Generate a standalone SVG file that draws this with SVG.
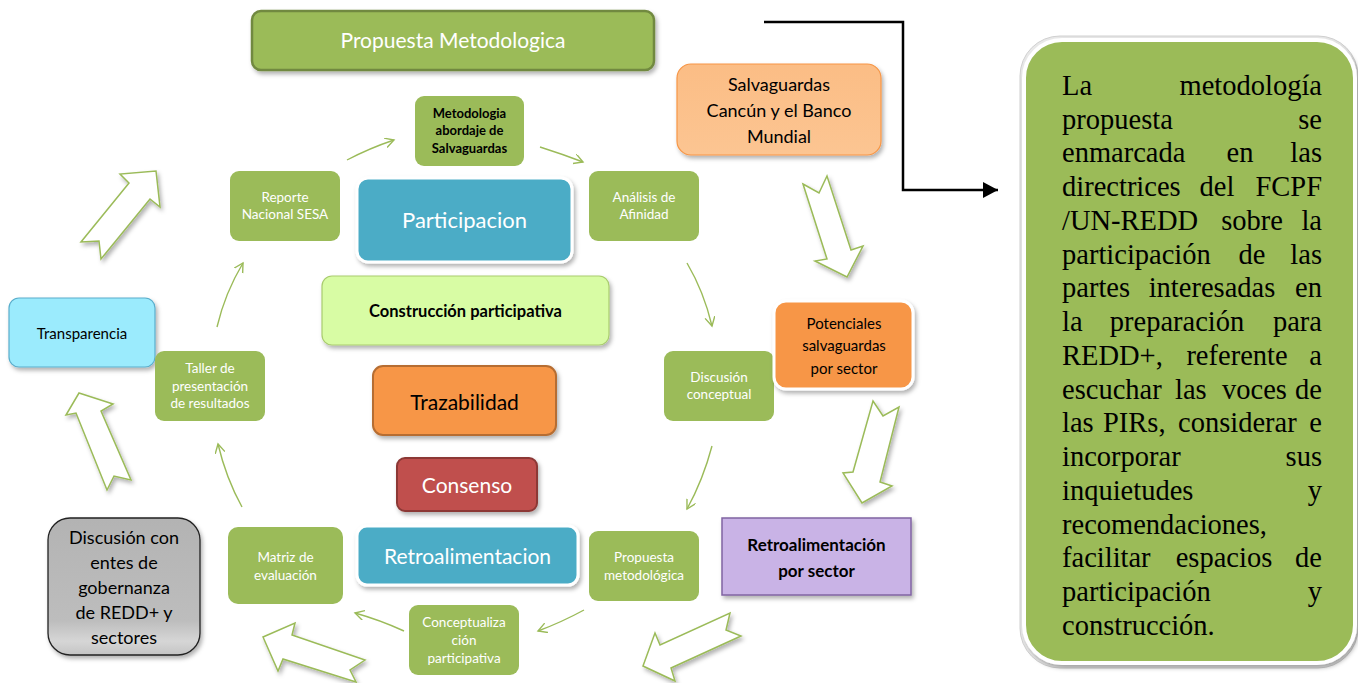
<svg xmlns="http://www.w3.org/2000/svg" width="1358" height="683" viewBox="0 0 1358 683">
<defs>
<style>
.g{fill:#9bbb59;}
.wt{fill:#ffffff;font-family:Lato,"Open Sans",sans-serif;font-size:13.5px;text-anchor:middle;}
.bk{fill:#000000;font-family:Lato,"Open Sans",sans-serif;text-anchor:middle;}
.bold{font-weight:bold;}
.blk{fill:#ffffff;stroke:#9bbb59;stroke-width:1.5;stroke-linejoin:miter;}
.conn{fill:none;stroke:#9bbb59;stroke-width:1.4;}
.jt{fill:#000;font-family:"Liberation Serif","Times New Roman",serif;font-size:28.5px;}
</style>
<filter id="sh" x="-20%" y="-20%" width="140%" height="150%">
<feDropShadow dx="2" dy="3" stdDeviation="2" flood-color="#000" flood-opacity="0.3"/>
</filter>
<marker id="va" markerWidth="12" markerHeight="12" refX="9" refY="5" orient="auto" markerUnits="userSpaceOnUse">
<path d="M0,0 L9,5 L0,10" fill="none" stroke="#9bbb59" stroke-width="1.4"/>
</marker>
<marker id="ba" markerWidth="18" markerHeight="18" refX="15" refY="8" orient="auto" markerUnits="userSpaceOnUse">
<path d="M0,0 L15,8 L0,16 Z" fill="#000"/>
</marker>
<linearGradient id="gray" x1="0" y1="0" x2="0" y2="1">
<stop offset="0" stop-color="#b3b3b3"/>
<stop offset="0.75" stop-color="#bdbdbd"/>
<stop offset="0.9" stop-color="#d6d6d6"/>
<stop offset="1" stop-color="#c4c4c4"/>
</linearGradient>
<linearGradient id="org" x1="0" y1="0" x2="0" y2="1">
<stop offset="0" stop-color="#fbbd85"/>
<stop offset="1" stop-color="#fcc592"/>
</linearGradient>
</defs>

<g id="connectors">
<path class="conn" d="M347,160 Q370,148 394,140" marker-end="url(#va)"/>
<path class="conn" d="M540,147 Q562,154 583,162" marker-end="url(#va)"/>
<path class="conn" d="M687,263 Q704,292 712,326" marker-end="url(#va)"/>
<path class="conn" d="M712,446 Q703,480 687,509" marker-end="url(#va)"/>
<path class="conn" d="M584,610 Q562,622 538,631" marker-end="url(#va)"/>
<path class="conn" d="M404,631 Q380,620 355,613" marker-end="url(#va)"/>
<path class="conn" d="M242,507 Q226,478 218,444" marker-end="url(#va)"/>
<path class="conn" d="M217,327 Q225,293 243,263" marker-end="url(#va)"/>
<path d="M764,22 L903,22 L903,190 L998,190" fill="none" stroke="#000" stroke-width="2.5" marker-end="url(#ba)"/>
<g filter="url(#sh)">
<polygon class="blk" points="156,171 160,207 150,199 101,259 99,241 81,242 129,183 120,174"/>
<polygon class="blk" points="79,393 113,404 101,411 131,480 114,476 107,490 76,413 66,415"/>
<polygon class="blk" points="263,637 295,623 292,635 365,660 350,670 356,682 283,659 278,671"/>
<polygon class="blk" points="643,666 655,633 660,645 730,613 726,630 741,636 671,668 675,681"/>
<polygon class="blk" points="803,184 819,193 827,176 851,250 863,246 847,277 815,261 827,259"/>
<polygon class="blk" points="873,401 883,416 899,407 880,482 892,486 862,503 843,473 853,472"/>
</g>
</g>

<g id="propuesta-metodologica">
<rect x="252" y="11" width="402" height="59" rx="9" fill="#9bbb59" stroke="#71893f" stroke-width="2.5" filter="url(#sh)"/>
<text x="453" y="48" class="wt" style="font-size:21px">Propuesta Metodologica</text>
</g>

<g id="salvaguardas">
<rect x="677" y="64" width="204" height="91" rx="14" fill="url(#org)" stroke="#f79646" stroke-width="1.2" filter="url(#sh)"/>
<text class="bk" style="font-size:18px"><tspan x="779" y="91">Salvaguardas</tspan><tspan x="779" y="117">Cancún y el Banco</tspan><tspan x="779" y="143">Mundial</tspan></text>
</g>

<g id="metodologia-abordaje">
<rect x="415" y="96" width="109" height="70" rx="9" class="g"/>
<text class="bk bold" style="font-size:13px"><tspan x="469.5" y="118">Metodologia</tspan><tspan x="469.5" y="135">abordaje de</tspan><tspan x="469.5" y="153">Salvaguardas</tspan></text>
</g>

<g id="reporte">
<rect x="230" y="171" width="110" height="70" rx="9" class="g"/>
<text class="wt"><tspan x="285" y="202">Reporte</tspan><tspan x="285" y="219">Nacional SESA</tspan></text>
</g>

<g id="participacion">
<rect x="357" y="178" width="215" height="84" rx="11" fill="#4bacc6" stroke="#ffffff" stroke-width="3" filter="url(#sh)"/>
<text x="464.5" y="228" class="wt" style="font-size:22px">Participacion</text>
</g>

<g id="analisis">
<rect x="589" y="171" width="110" height="70" rx="9" class="g"/>
<text class="wt"><tspan x="644" y="202">Análisis de</tspan><tspan x="644" y="219">Afinidad</tspan></text>
</g>

<g id="construccion">
<rect x="322" y="276" width="287" height="69" rx="10" fill="#d8fca4" stroke="#a9cc6e" stroke-width="1.2" filter="url(#sh)"/>
<text x="465.5" y="317" class="bk bold" style="font-size:16.5px">Construcción participativa</text>
</g>

<g id="transparencia">
<rect x="9" y="298" width="146" height="69" rx="10" fill="#9bebfd" stroke="#5aaecc" stroke-width="1.2" filter="url(#sh)"/>
<text x="82" y="339" class="bk" style="font-size:15px">Transparencia</text>
</g>

<g id="taller">
<rect x="155" y="351" width="110" height="70" rx="9" class="g"/>
<text class="wt"><tspan x="210" y="373">Taller de</tspan><tspan x="210" y="391">presentación</tspan><tspan x="210" y="408">de resultados</tspan></text>
</g>

<g id="trazabilidad">
<rect x="373" y="366" width="183" height="69" rx="10" fill="#f79646" stroke="#b66d31" stroke-width="2" filter="url(#sh)"/>
<text x="464.5" y="410" class="bk" style="font-size:21px">Trazabilidad</text>
</g>

<g id="discusion-conceptual">
<rect x="664" y="351" width="110" height="70" rx="9" class="g"/>
<text class="wt"><tspan x="719" y="382">Discusión</tspan><tspan x="719" y="399">conceptual</tspan></text>
</g>

<g id="potenciales">
<rect x="774" y="301" width="139" height="88" rx="12" fill="#f79646" stroke="#ffffff" stroke-width="3" filter="url(#sh)"/>
<text class="bk" style="font-size:15px"><tspan x="844" y="329">Potenciales</tspan><tspan x="844" y="351">salvaguardas</tspan><tspan x="844" y="374">por sector</tspan></text>
</g>

<g id="consenso">
<rect x="397" y="458" width="140" height="53" rx="8" fill="#c0504d" stroke="#8c3836" stroke-width="2" filter="url(#sh)"/>
<text x="467" y="493" class="wt" style="font-size:21px">Consenso</text>
</g>

<g id="matriz">
<rect x="228" y="527" width="115" height="77" rx="10" class="g"/>
<text class="wt"><tspan x="285.5" y="562">Matriz de</tspan><tspan x="285.5" y="580">evaluación</tspan></text>
</g>

<g id="retroalimentacion">
<rect x="357" y="526" width="221" height="59" rx="10" fill="#4bacc6" stroke="#ffffff" stroke-width="3" filter="url(#sh)"/>
<text x="467.5" y="564" class="wt" style="font-size:21px">Retroalimentacion</text>
</g>

<g id="propuesta-metodologica-2">
<rect x="589" y="531" width="110" height="70" rx="9" class="g"/>
<text class="wt"><tspan x="644" y="562">Propuesta</tspan><tspan x="644" y="580">metodológica</tspan></text>
</g>

<g id="retro-sector">
<rect x="722" y="518" width="189" height="77" fill="#c9b3e6" stroke="#8064a2" stroke-width="1.5" filter="url(#sh)"/>
<text class="bk bold" style="font-size:17px"><tspan x="816.5" y="551">Retroalimentación</tspan><tspan x="816.5" y="577">por sector</tspan></text>
</g>

<g id="conceptualizacion">
<rect x="409" y="605" width="110" height="70" rx="9" class="g"/>
<text class="wt"><tspan x="464" y="627">Conceptualiza</tspan><tspan x="464" y="645">ción</tspan><tspan x="464" y="663">participativa</tspan></text>
</g>

<g id="discusion-entes">
<rect x="48" y="518" width="152" height="137" rx="22" fill="url(#gray)" stroke="#222" stroke-width="1.3" filter="url(#sh)"/>
<text class="bk" style="font-size:18px"><tspan x="124" y="544">Discusión con</tspan><tspan x="124" y="569">entes de</tspan><tspan x="124" y="594">gobernanza</tspan><tspan x="124" y="619">de REDD+ y</tspan><tspan x="124" y="644">sectores</tspan></text>
</g>

<g id="texto-metodologia">
<rect x="1020" y="36" width="338" height="632" rx="40" fill="#e9e9e9" stroke="#d0d0d0" stroke-width="1"/>
<rect x="1024" y="40" width="331" height="623" rx="38" fill="#9bbb59" stroke="#ffffff" stroke-width="4" filter="url(#sh)"/>
<g class="jt">
<text x="1062" y="95">La</text><text x="1322" y="95" text-anchor="end">metodología</text>
<text x="1062" y="129">propuesta</text><text x="1322" y="129" text-anchor="end">se</text>
<text x="1062" y="162">enmarcada</text><text x="1240" y="162" text-anchor="middle">en</text><text x="1322" y="162" text-anchor="end">las</text>
<text x="1062" y="196">directrices</text><text x="1217" y="196" text-anchor="middle">del</text><text x="1322" y="196" text-anchor="end">FCPF</text>
<text x="1062" y="230">/UN-REDD</text><text x="1252" y="230" text-anchor="middle">sobre</text><text x="1322" y="230" text-anchor="end">la</text>
<text x="1062" y="264">participación</text><text x="1252" y="264" text-anchor="middle">de</text><text x="1322" y="264" text-anchor="end">las</text>
<text x="1062" y="297">partes</text><text x="1212" y="297" text-anchor="middle">interesadas</text><text x="1322" y="297" text-anchor="end">en</text>
<text x="1062" y="331">la</text><text x="1177" y="331" text-anchor="middle">preparación</text><text x="1322" y="331" text-anchor="end">para</text>
<text x="1062" y="365">REDD+,</text><text x="1237" y="365" text-anchor="middle">referente</text><text x="1322" y="365" text-anchor="end">a</text>
<text x="1062" y="399">escuchar</text><text x="1175" y="399">las</text><text x="1222" y="399">voces</text><text x="1322" y="399" text-anchor="end">de</text>
<text x="1062" y="432">las</text><text x="1103" y="432">PIRs,</text><text x="1178" y="432">considerar</text><text x="1322" y="432" text-anchor="end">e</text>
<text x="1062" y="466">incorporar</text><text x="1322" y="466" text-anchor="end">sus</text>
<text x="1062" y="500">inquietudes</text><text x="1322" y="500" text-anchor="end">y</text>
<text x="1062" y="534">recomendaciones,</text>
<text x="1062" y="567">facilitar</text><text x="1224" y="567" text-anchor="middle">espacios</text><text x="1322" y="567" text-anchor="end">de</text>
<text x="1062" y="601">participación</text><text x="1322" y="601" text-anchor="end">y</text>
<text x="1062" y="635">construcción.</text>
</g>
</g>
</svg>
